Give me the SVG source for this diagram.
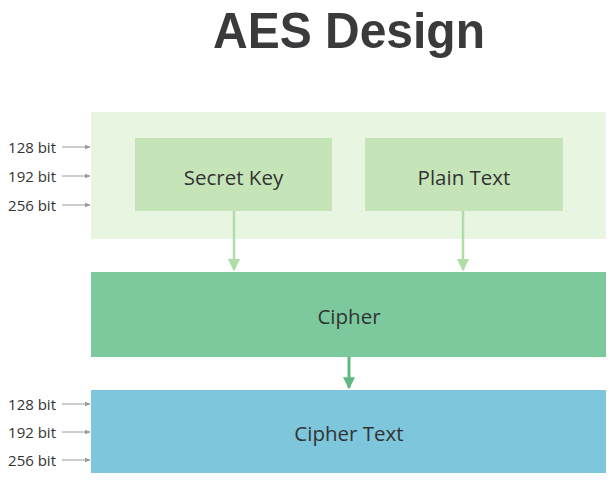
<svg xmlns="http://www.w3.org/2000/svg" width="611" height="480" viewBox="0 0 611 480">
<defs>
<style>
.lbl{font-family:"Open Sans","Noto Sans",sans-serif;font-size:20.5px;fill:#333;text-anchor:middle;dominant-baseline:central}
.bit{font-family:"Open Sans","Noto Sans",sans-serif;font-size:15px;fill:#333;text-anchor:end;dominant-baseline:central}
.tick{stroke:#9a9a9a;stroke-width:1}
.la{stroke:#b0dca8;stroke-width:2.5;fill:none}
.da{stroke:#5fb782;stroke-width:3;fill:none}
</style>
<marker id="ag" viewBox="0 0 10 10" refX="9" refY="5" markerWidth="5" markerHeight="5" orient="auto" markerUnits="strokeWidth"><path d="M0,0 L10,5 L0,10 z" fill="#b0dca8"/></marker>
<marker id="adg" viewBox="0 0 10 10" refX="9" refY="5" markerWidth="4" markerHeight="4" orient="auto" markerUnits="strokeWidth"><path d="M0,0 L10,5 L0,10 z" fill="#5fb782"/></marker>
<marker id="gr" viewBox="0 0 10 10" refX="9" refY="5" markerWidth="6" markerHeight="6" orient="auto" markerUnits="strokeWidth"><path d="M0,1 L10,5 L0,9 z" fill="#9a9a9a"/></marker>
</defs>
<rect width="611" height="480" fill="#fff"/>
<text x="349" y="48" font-family="'Liberation Sans',Arial,sans-serif" font-weight="bold" font-size="50" fill="#3a3a3c" text-anchor="middle" textLength="272" lengthAdjust="spacingAndGlyphs">AES Design</text>
<g id="input-area"><rect x="91" y="112" width="515" height="127" fill="#e8f5e1"/></g>
<g id="secret-key"><rect x="135" y="138" width="197" height="73" fill="#c5e5b8"/><text class="lbl" x="233.5" y="177">Secret Key</text></g>
<g id="plain-text"><rect x="365" y="138" width="198" height="73" fill="#c5e5b8"/><text class="lbl" x="464" y="177">Plain Text</text></g>
<g id="cipher"><rect x="91" y="272" width="515" height="85" fill="#7dc99e"/><text class="lbl" x="349" y="316">Cipher</text></g>
<g id="cipher-text"><rect x="91" y="390" width="515" height="83" fill="#7ec6dc"/><text class="lbl" x="349" y="433">Cipher Text</text></g>
<g id="key-sizes-in">
<text class="bit" x="56" y="147">128 bit</text>
<text class="bit" x="56" y="176">192 bit</text>
<text class="bit" x="56" y="205">256 bit</text>
</g>
<g id="key-sizes-out">
<text class="bit" x="56" y="404">128 bit</text>
<text class="bit" x="56" y="432">192 bit</text>
<text class="bit" x="56" y="460">256 bit</text>
</g>
<g id="connectors">
<line class="tick" x1="62" y1="147" x2="90" y2="147" marker-end="url(#gr)"/>
<line class="tick" x1="62" y1="176" x2="90" y2="176" marker-end="url(#gr)"/>
<line class="tick" x1="62" y1="205" x2="90" y2="205" marker-end="url(#gr)"/>
<line class="tick" x1="62" y1="404" x2="90" y2="404" marker-end="url(#gr)"/>
<line class="tick" x1="62" y1="432" x2="90" y2="432" marker-end="url(#gr)"/>
<line class="tick" x1="62" y1="460" x2="90" y2="460" marker-end="url(#gr)"/>
<line class="la" x1="234" y1="211" x2="234" y2="270" marker-end="url(#ag)"/>
<line class="la" x1="463" y1="211" x2="463" y2="270" marker-end="url(#ag)"/>
<line class="da" x1="349" y1="357" x2="349" y2="388" marker-end="url(#adg)"/>
</g>
</svg>
